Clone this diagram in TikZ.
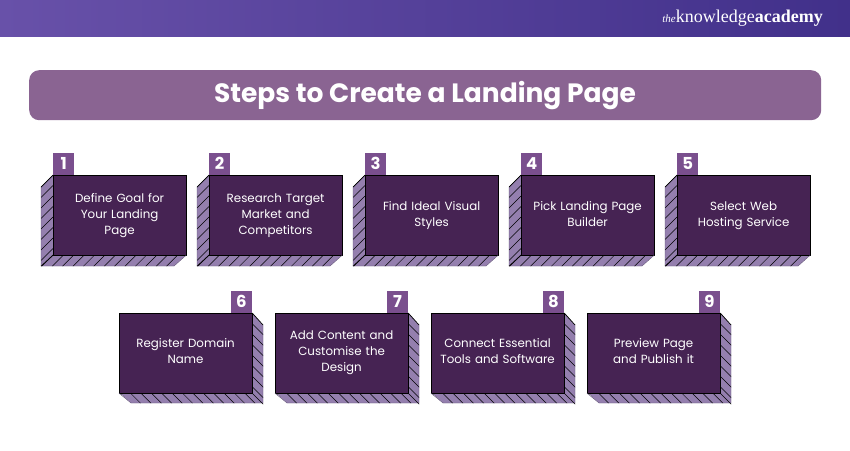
\documentclass[tikz,border=0pt]{standalone}
\usepackage{fontspec}
\setmainfont{Poppins}
\newfontfamily\logofont{Liberation Serif}
\definecolor{bandL}{HTML}{6851A9}
\definecolor{bandR}{HTML}{41308A}
\definecolor{titleL}{HTML}{8A6492}
\definecolor{front}{HTML}{462353}
\definecolor{side}{HTML}{947FAE}
\definecolor{badge}{HTML}{7A4F8E}
\definecolor{outeredge}{HTML}{5F5075}
\newcommand{\linestrut}{\rule[-4pt]{0pt}{16pt}}
\tikzset{
  frontbox/.style={draw=black,line width=0.7pt,fill=front,minimum width=132.5pt,minimum height=79.5pt,inner sep=0pt,anchor=north west},
  bodytext/.style={text=white,font=\fontsize{11.85}{16}\selectfont,align=center,text width=125pt,inner sep=0pt},
  badgebox/.style={fill=badge,minimum width=21pt,minimum height=22pt,inner sep=0pt,text=white,font=\fontsize{16.5}{16.5}\selectfont\bfseries},
  sideface/.style={fill=side,draw=none},
  hatchline/.style={draw=black,line width=0.5pt},
  edgeline/.style={draw=black,line width=0.7pt},
  outerline/.style={draw=outeredge,line width=0.4pt}
}
% left-side step: name, x, text, number
\newcommand{\leftstep}[4]{%
  \begin{scope}
    \path[sideface] (#2,175) -- (#2-12,187) -- (#2-12,266) -- (#2+121,266) -- (#2+133,255) -- (#2,255) -- cycle;
    \clip (#2,175) -- (#2-12,187) -- (#2-12,266) -- (#2+121,266) -- (#2+133,255) -- (#2,255) -- cycle;
    \foreach \d in {0,10.5,...,80} \draw[hatchline] (#2,175+\d) -- ++(-12,12);
    \foreach \d in {0,10.4,...,135} \draw[hatchline] (#2+\d,255) -- ++(-12,12);
  \end{scope}
  \node[frontbox] (#1) at (#2,175) {};
  \node[bodytext] (#1t) at ([yshift=1pt]#1.center) {\linestrut #3\linestrut};
  \node[badgebox,anchor=south west] (#1n) at (#1.north west) {#4};
  \draw[outerline] (#2-12,187) -- (#2-12,266) -- (#2+121,266) -- (#1.south east);
  \draw[edgeline] (#1.north west) -- (#2-12,187);
  \draw[edgeline] (#1.south west) -- ++(-12,11);
}
% right-side step
\newcommand{\rightstep}[4]{%
  \begin{scope}
    \path[sideface] (#2+133,313) -- (#2+144,325) -- (#2+144,403) -- (#2+12,403) -- (#2,392) -- (#2+133,392) -- cycle;
    \clip (#2+133,313) -- (#2+144,325) -- (#2+144,403) -- (#2+12,403) -- (#2,392) -- (#2+133,392) -- cycle;
    \foreach \d in {0,10.5,...,80} \draw[hatchline] (#2+133,313+\d) -- ++(12,12);
    \foreach \d in {0,10.4,...,135} \draw[hatchline] (#2+\d,392) -- ++(12,12);
  \end{scope}
  \node[frontbox] (#1) at (#2,313) {};
  \node[bodytext] (#1t) at ([yshift=2pt]#1.center) {\linestrut #3\linestrut};
  \node[badgebox,anchor=south east] (#1n) at (#1.north east) {#4};
  \draw[outerline] (#2+144,325) -- (#2+144,403) -- (#2+12,403) -- (#1.south west);
  \draw[edgeline] (#1.north east) -- (#2+144,325);
  \draw[edgeline] (#1.south east) -- ++(11,11);
}
\begin{document}
\begin{tikzpicture}[x=1pt,y=-1pt]
\useasboundingbox (0,0) rectangle (850,450);
\fill[white] (0,0) rectangle (850,450);
\shade[left color=bandL,right color=bandR] (0,0) rectangle (850,36);
\node[text=white,anchor=east,inner sep=0pt,font=\logofont\fontsize{18}{18}\selectfont] (logo) at (823,18.5) {{\itshape\fontsize{11}{11}\selectfont the}knowledge\textbf{academy}};
\node[fill=titleL,rounded corners=10pt,minimum width=792pt,minimum height=50pt,anchor=north west,inner sep=0pt] (title) at (29,70) {};
\node[text=white,font=\fontsize{26.5}{30}\selectfont\bfseries,inner sep=0pt] (titlet) at (425,95.5) {Steps to Create a Landing Page};
\leftstep{s1}{53}{Define Goal for\\Your Landing\\Page}{1}
\leftstep{s2}{209}{Research Target\\Market and\\Competitors}{2}
\leftstep{s3}{365}{Find Ideal Visual\\Styles}{3}
\leftstep{s4}{521}{Pick Landing Page\\Builder}{4}
\leftstep{s5}{677}{Select Web\\Hosting Service}{5}
\rightstep{s6}{119}{Register Domain\\Name}{6}
\rightstep{s7}{275}{Add Content and\\Customise the\\Design}{7}
\rightstep{s8}{431}{Connect Essential\\Tools and Software}{8}
\rightstep{s9}{587}{Preview Page\\and Publish it}{9}
\end{tikzpicture}
\end{document}
